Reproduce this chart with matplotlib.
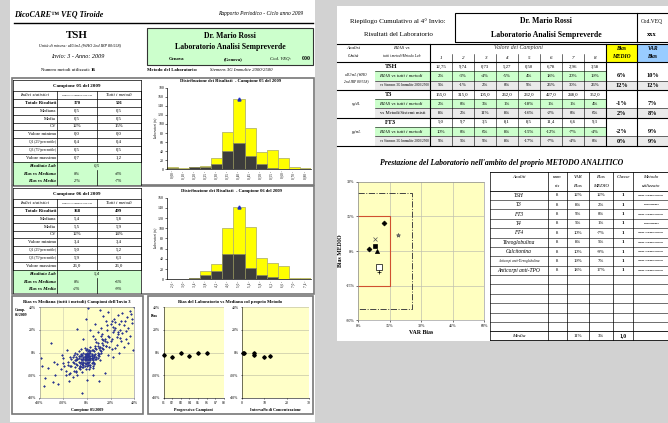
import matplotlib
matplotlib.use('Agg')
import matplotlib.pyplot as plt
from matplotlib.patches import Rectangle
from matplotlib.lines import Line2D

# ---------------- data ----------------
stat_labels = ['Totale Risultati', 'Mediana', 'Media', 'CV', 'Valore minimo',
               'Q1 (25°percentile)', 'Q3 (75°percentile)', 'Valore massimo']
c05_lab = ['170', '0,5', '0,5', '12%', '0,0', '0,4', '0,5', '0,7']
c05_all = ['501', '0,5', '0,5', '15%', '0,0', '0,4', '0,5', '1,2']
c05_res = '0,5'
c05_bias_med = ['0%', '-4%']
c05_bias_mean = ['2%', '-7%']
c06_lab = ['168', '5,4', '5,5', '12%', '3,4', '5,0', '5,9', '26,0']
c06_all = ['499', '5,8', '5,9', '14%', '3,4', '5,2', '6,3', '26,0']
c06_res = '5,4'
c06_bias_med = ['0%', '-6%']
c06_bias_mean = ['-2%', '-9%']

h05_bins = ['0,00', '0,10', '0,20', '0,25', '0,30', '0,35', '0,40', '0,45', '0,50', '0,55', '0,60', '0,70', '0,80']
h05_all = [4, 2, 5, 7, 26, 83, 156, 92, 39, 42, 26, 5, 3]
h05_met = [3, 1, 5, 4, 11, 41, 59, 29, 11, 2, 1, 0, 0]
h05_lab_bin = 6
h06_bins = ['2,6', '3,0', '3,4', '3,8', '4,2', '4,6', '5,0', '5,4', '5,8', '6,2', '6,6', '7,0', '7,4']
h06_all = [0, 0, 2, 17, 30, 100, 141, 103, 42, 31, 26, 3, 3]
h06_met = [0, 0, 2, 9, 16, 50, 50, 22, 8, 4, 0, 0, 0]
h06_lab_bin = 6

sc_x = [-2, 0, 3, -5, 1, 4, -3, 2, -7, 6, -1, 5, -4, 8, 0, -6, 3, -9, 7, 1,
        -2, 10, -8, 4, -3, 2, 6, -5, 9, -10, 0, -1, 5, -4, 11, -7, 2, -11, 8, 3,
        -6, 1, 12, -3, 7, -9, 4, -2, 6, -12, 13, 0, -5, 9, -8, 2, 10, -1, 5, -13,
        15, -4, 3, -10, 11, -6, 14, 1, -7, 8, -1, 2, -3, 4, -5, 6, -2, 0, 3, -4,
        1, 5, -6, 7, -8, 2, 9, -3, 0, 4,
        -1, 1, 2, -2, 3, -3, 4, -4, 0, 0, 1, -1, 2, -2, 5, -5, 6, -6, 7, -7,
        3, -3, 1, -1, 0, 2, -2, 4, -4, 8, -8, 9, -9, 10, 11, 12, 13, -10, -11, 14,
        6, 5, 4, 3, 2, 1, 0, -1, -2, -3,
        15, 18, 20, 22, 25, 17, 24, 28, 30, 27, 32, 35, 20, 23, 26, 30, 34, 38, 37, 40,
        39, 36, 33, 29, 19, 21, 25, 31, 18, 22, 27, 35, 16, 12, 9, 5, -8, 1, 11, 22,
        -3, 3, 7, 14, 18, -1, 13, 16, 24, 28, 16, 17, 19, 21, 23, 26, 12, 14, 9, 7,
        24, 29, 33, 36, 31, 26, 21, 17, 13, 38,
        -39, -38, -35, -29, -27, -30, -25, -22, -20, -18, -15, -24, -4, 15, 10, -17,
        -14, -21, -12, -16, -19, 5, 0, -8, -33, -28, -36, -11, -14, -9,
        -6, -13, -15, -16, -18, -20, -12, -14, -9, -7]
sc_y = [-3, -1, 0, -6, -4, -2, -8, 2, -5, 1, -10, -5, -2, 3, -6, -9, -7, -4, -1, 1,
        -12, 4, -11, -9, 0, -3, -4, -1, -2, -7, 3, -5, 2, -13, 5, -14, -8, -2, -6, 5,
        -3, -11, 1, -6, 6, -10, -1, 4, -9, -8, 8, 0, 3, 0, -1, -15, -3, 2, -12, -12,
        10, -17, -5, 0, -7, -15, 3, -2, 1, 9, -7, -6, -4, -5, -8, -2, -1, -9, -11, -10,
        -3, -7, -12, 4, -6, 0, 6, -13, -2, 2,
        -4, -2, -6, -7, -3, -9, -5, -10, -8, -2, -1, -3, -11, -4, -8, -3, -3, -12, -6, -8,
        1, -5, -7, -1, -4, 0, -6, -3, -7, -4, -6, -5, -7, -1, 2, 0, 4, -13, -9, 7,
        -10, -14, -6, -13, -5, -9, -12, -15, -9, -11,
        12, 15, 10, 18, 14, 20, 22, 20, 17, 25, 28, 22, 25, 30, 33, 35, 31, 26, 34, 40,
        2, 15, 12, 10, 5, 3, 7, 5, -2, -4, 0, 8, 28, 22, 18, 15, 21, 39, 38, 23,
        12, 20, 25, 32, 36, 30, 12, 6, 4, 13, 6, 9, 14, 12, 20, 18, 15, 11, 8, 12,
        27, 28, 19, 37, 24, 16, 28, 24, 16, 30,
        -5, -12, -23, -26, -20, 8, -10, -15, -5, -20, -25, -28, -36, -18, -25, 2,
        -18, -2, -22, -8, -12, -20, -24, -20, -14, -8, -30, -16, -4, -17,
        -13, -6, -19, -11, -16, -9, -4, -12, -16, -3]

prog_x = [1, 2, 3, 4, 5, 6]
prog_bias = [-2, -4, 0, -3, 0, 0]
conc_x = [5.3, 9.7, 0.7, 12.7, 0.5, 5.5]

samples = ['1', '2', '3', '4', '5', '6', '7', '8']
groups = ['TSH', 'T3', 'FT3']
units = [['uIU/mL (WHO', '2nd IRP 80/558)'], ['ng/dL'], ['pg/mL']]
vs_labels = ['vs Siemens 3G Immulite 2000/2500', 'vs Metodi/Sistemi misti', 'vs Siemens 3G Immulite 2000/2500']
grp_values = [['12,75', '9,74', '0,73', '5,27', '0,50', '6,78', '2,96', '3,58'],
              ['155,0', '315,0', '105,0', '262,0', '232,0', '427,0', '248,0', '352,0'],
              ['5,0', '9,7', '3,5', '8,1', '8,5', '11,4', '6,6', '9,3']]
grp_bias_all = [[2, -3, -4, -5, 4, 18, 20, 19], [2, 0, 3, 1, -18, 1, 1, 4], [10, 0, 6, 8, -15, -12, -7, -4]]
grp_bias_met = [[5, -1, 2, 0, 9, 26, 30, 26], [8, 2, 11, 8, -16, -2, 0, 6], [9, 5, 9, 8, -17, -7, -4, 0]]
grp_medio = [[6, 12], [-1, 2], [-2, 0]]
grp_var = [[10, 12], [7, 8], [9, 9]]

analiti = ['TSH', 'T3', 'FT3', 'T4', 'FT4', 'Tireoglobulina', 'Calcitonina',
           'Anticorpi anti-Tireoglobulina', 'Anticorpi anti-TPO']
num_ris = [8, 8, 8, 8, 8, 8, 8, 8, 8]
var_bias = [12, 8, 9, 5, 10, 8, 10, 19, 18]
bias_medio = [12, 2, 0, 1, -7, 5, -9, 7, 17]
classe = [1, 1, 1, 1, 1, 1, 1, 1, 1]
metodo = ['Siemens 3G Immulite 2000/2500', 'Metodi/Sistemi misti', 'Siemens 3G Immulite 2000/2500',
          'Metodi/Sistemi misti', 'Siemens 3G Immulite 2000/2500', 'Siemens 3G Immulite 2000/2500',
          'Siemens 3G Immulite 2000/2500', 'Siemens 3G Immulite 2000/2500', 'Siemens 3G Immulite 2000/2500']
plotted = [True, True, True, True, True, True, True, True, False]
markers = ['D', 's', '^', 'D', 's', 'x', '+', '*', 'o']
mfaces = ['black', 'black', 'black', 'black', 'white', 'gray', 'black', 'gray', 'black']
msizes = [2.5, 3, 3, 2.5, 4, 3, 3, 3, 3]

# ---------------- helpers ----------------
W, H = 668, 423
plt.rcParams['font.family'] = ['Liberation Serif', 'DejaVu Serif']
fig = plt.figure(figsize=(W / 100, H / 100), dpi=100)
fig.patch.set_facecolor('#d2d2d2')


def fx(x):
    return x / W


def fy(y):
    return 1 - y / H


def T(x, y, s, size=3.4, ha='center', va='center', weight='normal', style='normal', color='black', rot=0):
    fig.text(fx(x), fy(y), s, fontsize=size, ha=ha, va=va, fontweight=weight,
             fontstyle=style, color=color, rotation=rot, zorder=5)


def L(x0, y0, x1, y1, lw=0.5, color='black', ls='-'):
    fig.add_artist(Line2D([fx(x0), fx(x1)], [fy(y0), fy(y1)], lw=lw, color=color, ls=ls,
                          transform=fig.transFigure, zorder=4))


def R(x0, y0, x1, y1, fc='none', ec='none', lw=0.5, z=-1):
    fig.add_artist(Rectangle((fx(x0), fy(y1)), fx(x1) - fx(x0), fy(y0) - fy(y1),
                             transform=fig.transFigure, fc=fc, ec=ec, lw=lw, zorder=z))


def AX(x0, y0, x1, y1):
    return fig.add_axes([fx(x0), fy(y1), fx(x1) - fx(x0), fy(y0) - fy(y1)])


# ================= LEFT PAGE =================
R(10, 0, 315, 422, fc='white')
T(14, 14, 'DicoCARE™ VEQ Tiroide', size=5.8, ha='left', weight='bold', style='italic')
T(303, 14, 'Rapporto Periodico - Ciclo anno 2009', size=4.0, ha='right', style='italic')
L(14, 23, 313, 23, lw=1.0)
T(77, 35, 'TSH', size=7.8, weight='bold')
T(80, 45, 'Unità di misura: uIU/mL (WHO 2nd IRP 80/558)', size=3.0, style='italic')
T(78, 57, 'Invio: 3 - Anno: 2009', size=4.4, style='italic')
T(66, 70, 'Numero metodi utilizzati:', size=3.4, ha='center')
T(93, 70, '16', size=3.6, weight='bold')

R(147, 28, 313, 65, fc='#ccffcc', ec='#333333', lw=0.8)
T(230, 36, 'Dr. Mario Rossi', size=5.6, weight='bold')
T(230, 47, 'Laboratorio Analisi Sempreverde', size=5.6, weight='bold')
T(176, 59, 'Genova', size=3.4, weight='bold')
T(233, 59, '(Genova)', size=3.4, weight='bold')
T(281, 59, 'Cod. VEQ:', size=3.4, style='italic')
T(306, 59, '000', size=4.2, weight='bold')
T(147, 70, 'Metodo del Laboratorio:', size=3.4, ha='left', weight='bold')
T(210, 70, 'Siemens 3G Immulite 2000/2500', size=3.4, ha='left', style='italic')

cx = [13, 57, 97, 141]


def stat_table(top, title, lab, allv, res, bmed, bmean):
    R(12, top - 2, 314, top + 105.5, ec='#777777', lw=1.2, z=0)
    L(13, top, 141, top, lw=0.5)
    T(77, top + 6, title, size=3.6, weight='bold')
    hdr_top = top + 11
    row_h = 7.85
    rows_top = hdr_top + 8
    L(13, hdr_top, 141, hdr_top)
    T(35, hdr_top + 4, 'Indici statistici', size=3.4, style='italic')
    T(77, hdr_top + 4, 'Siemens 3G Immulite 2000/2500', size=1.6)
    T(119, hdr_top + 4, 'Tutti i metodi', size=3.4, style='italic')
    green_top = rows_top + 8 * row_h
    bottom = rows_top + 11 * row_h
    R(13, green_top, 141, bottom, fc='#ccffcc', z=0)
    for i in range(9):
        L(13, rows_top + i * row_h, 141, rows_top + i * row_h)
    for x in cx:
        L(x, hdr_top, x, green_top)
    L(13, top, 13, bottom)
    L(141, top, 141, bottom)
    L(57, green_top, 57, bottom)
    L(97, green_top + row_h, 97, bottom)
    for i, lbl in enumerate(stat_labels):
        yc = rows_top + (i + 0.5) * row_h
        small = lbl.startswith('Q')
        T(56, yc, lbl, size=2.6 if small else 3.4, ha='right',
          weight='bold' if i == 0 else 'normal')
        T(77, yc, lab[i], size=3.4, weight='bold' if i == 0 else 'normal')
        T(119, yc, allv[i], size=3.4, weight='bold' if i == 0 else 'normal')
    y1 = green_top + 0.5 * row_h
    T(56, y1, 'Risultato Lab', size=3.4, ha='right', weight='bold', style='italic')
    T(97, y1, res, size=3.4, style='italic')
    T(56, y1 + row_h, 'Bias vs Mediana', size=3.4, ha='right', weight='bold', style='italic')
    T(77, y1 + row_h, bmed[0], size=3.2, style='italic')
    T(119, y1 + row_h, bmed[1], size=3.2, style='italic')
    T(56, y1 + 2 * row_h, 'Bias vs Media', size=3.4, ha='right', weight='bold', style='italic')
    T(77, y1 + 2 * row_h, bmean[0], size=3.2, style='italic')
    T(119, y1 + 2 * row_h, bmean[1], size=3.2, style='italic')


stat_table(80, 'Campione 05 del 2009', c05_lab, c05_all, c05_res, c05_bias_med, c05_bias_mean)
stat_table(188, 'Campione 06 del 2009', c06_lab, c06_all, c06_res, c06_bias_med, c06_bias_mean)


def histogram(y_top, y_bot, ymax, bins, allv, met, labbin, title, title_y):
    ax = AX(167, y_top, 311, y_bot)
    xs = list(range(len(allv)))
    ax.bar(xs, allv, width=1.0, align='edge', color='#ffff00', edgecolor='#b5b56a', lw=0.6)
    ax.bar(xs, met, width=1.0, align='edge', color='#3c3c3c', edgecolor='#8a8a5a', lw=0.6)
    ax.plot([labbin + 0.5], [allv[labbin]], marker='^', color='#2030c0', ms=2.2, ls='none', clip_on=False)
    ax.set_xlim(0, len(allv))
    ax.set_ylim(0, ymax)
    ax.set_yticks(range(0, ymax + 1, 20))
    ax.set_xticks([i + 0.5 for i in xs])
    ax.set_xticklabels([b + ' -' for b in bins], rotation=90, fontsize=2.4)
    ax.tick_params(axis='y', labelsize=2.8, length=1.2, width=0.4, pad=1)
    ax.tick_params(axis='x', length=0, pad=1)
    for s in ['top', 'right']:
        ax.spines[s].set_visible(False)
    ax.spines['left'].set_linewidth(0.5)
    ax.spines['bottom'].set_linewidth(0.5)
    ax.set_ylabel('Laboratori (n)', fontsize=2.6, style='italic', labelpad=1)
    T(231, title_y, title, size=3.3, weight='bold')


histogram(87.7, 169.3, 180, h05_bins, h05_all, h05_met, h05_lab_bin,
          'Distribuzione dei Risultati  - Campione 05 del 2009', 81)
histogram(197.7, 279.3, 160, h06_bins, h06_all, h06_met, h06_lab_bin,
          'Distribuzione dei Risultati  - Campione 06 del 2009', 191)

# bottom-left box: scatter
R(12, 296, 143, 414, ec='#777777', lw=1.2, z=0)
R(148, 296, 313, 414, ec='#777777', lw=1.2, z=0)
T(77, 302, "Bias vs Mediana (tutti i metodi) Campioni dell'Invio 3", size=3.3, weight='bold')
ax = AX(39.5, 307.3, 134.3, 397.7)
ax.set_facecolor('#ffffc8')
ax.scatter(sc_x, sc_y, s=2.0, marker='D', color='#2a3590', linewidths=0)
ax.set_xlim(-40, 40)
ax.set_ylim(-40, 40)
ax.set_xticks([-40, -20, 0, 20, 40])
ax.set_yticks([-40, -20, 0, 20, 40])
ax.set_xticklabels(['-40%', '-20%', '0%', '20%', '40%'])
ax.set_yticklabels(['-40%', '-20%', '0%', '20%', '40%'])
ax.grid(True, color='#c8c8b0', lw=0.4)
ax.set_axisbelow(True)
ax.tick_params(labelsize=2.8, length=1, width=0.4, pad=1.5)
for s in ax.spines.values():
    s.set_linewidth(0.4)
    s.set_color('#888888')
T(15, 310, 'Comp.', size=2.8, ha='left', weight='bold')
T(15, 315, '06/2009', size=2.8, ha='left', weight='bold')
T(87, 410, 'Campione 05/2009', size=3.0, weight='bold')

# bottom-right box: lab bias
T(230, 302, 'Bias del Laboratorio vs Mediana col proprio Metodo', size=3.3, weight='bold')
for (x0, x1, xv, xlim, xt, xtl, xlabel) in [
        (163.5, 224, prog_x, (1, 8), list(range(1, 9)), ['01', '02', '03', '04', '05', '06', '07', '08'],
         'Progressivo Campioni'),
        (242, 309, conc_x, (0, 30), [0, 10, 20, 30], ['0', '10', '20', '30'],
         'Intervallo di Concentrazione')]:
    a = AX(x0, 307.3, x1, 397.7)
    a.set_facecolor('#ffffc8')
    a.plot(xv, prog_bias, ls='none', marker='D', ms=1.8, color='black', clip_on=False)
    a.set_xlim(*xlim)
    a.set_ylim(-40, 40)
    a.set_xticks(xt)
    a.set_xticklabels(xtl)
    a.set_yticks([-40, -20, 0, 20, 40])
    a.set_yticklabels(['-40%', '-20%', '0%', '20%', '40%'])
    a.grid(True, axis='y', color='#b8b8a0', lw=0.4)
    a.set_axisbelow(True)
    a.tick_params(labelsize=2.8, length=1, width=0.4, pad=1.5)
    for s in ['top', 'right']:
        a.spines[s].set_visible(False)
    a.spines['left'].set_linewidth(0.4)
    a.spines['bottom'].set_linewidth(0.4)
    T((x0 + x1) / 2, 410, xlabel, size=3.0, weight='bold')
T(151, 316, 'Bias', size=2.8, ha='left', weight='bold')

# ================= RIGHT PAGE =================
R(337, 6, 668, 341, fc='white')
T(398, 21, 'Riepilogo Cumulativo al 4° Invio:', size=5.0)
T(398, 35, 'Risultati del Laboratorio', size=5.0)
R(455, 13, 680, 42, ec='black', lw=0.8, z=0)
L(637, 13, 637, 42, lw=0.8)
T(546, 21, 'Dr. Mario Rossi', size=5.6, weight='bold')
T(546, 35, 'Laboratorio Analisi Sempreverde', size=5.6, weight='bold')
T(652, 21, 'Cod.VEQ', size=4.0)
T(652, 35, 'xxx', size=4.6, weight='bold')

vx0, vx1 = 430, 606
cw = (vx1 - vx0) / 8
hdr0, hdr1 = 44, 62
rh = 9.3
R(606, hdr0, 637, hdr1, fc='#ffff00', z=0)
R(637, hdr0, 668, hdr1, fc='#99ccff', z=0)
T(353, 48, 'Analisi', size=3.6, style='italic')
T(353, 56, 'Unità', size=3.6, style='italic')
T(402, 48, 'BIAS vs', size=3.6, style='italic')
T(402, 56, 'tutti i metodi/Metodo Lab', size=2.6, style='italic')
T((vx0 + vx1) / 2, 48, 'Valore dei Campioni', size=4.2, style='italic', color='#333333')
for i, s in enumerate(samples):
    T(vx0 + (i + 0.5) * cw, 58, s, size=3.6, style='italic')
    L(vx0 + i * cw, 54, vx0 + i * cw, hdr1, lw=0.4)
T(621.5, 48.5, 'Bias', size=4.0, weight='bold', style='italic')
T(621.5, 56.5, 'MEDIO', size=4.0, weight='bold', style='italic')
T(652.5, 48.5, 'VAR', size=4.0, weight='bold', style='italic')
T(652.5, 56.5, 'Bias', size=4.0, weight='bold', style='italic')
L(337, hdr0, 668, hdr0, lw=0.8)
L(337, hdr1, 668, hdr1, lw=0.8)
for x in [vx0, 606, 637]:
    L(x, hdr0, x, hdr1 + 9 * rh, lw=0.8)


def pct(v):
    return '%d%%' % v


for g in range(3):
    base = hdr1 + g * 3 * rh
    R(375, base + rh, vx1, base + 2 * rh, fc='#ccffcc', z=0)
    R(375, base + 2 * rh, vx1, base + 3 * rh, fc='#eaeaea', z=0)
    R(606, base + 2 * rh, 668, base + 3 * rh, fc='#eaeaea', z=0)
    T(385, base + 0.5 * rh, groups[g], size=4.6, ha='left', weight='bold')
    T(380, base + 1.5 * rh, 'BIAS vs tutti i metodi', size=3.6, ha='left', style='italic')
    T(380, base + 2.5 * rh, vs_labels[g], size=2.4 if 'Siemens' in vs_labels[g] else 3.4, ha='left')
    ul = units[g]
    if len(ul) == 2:
        T(356, base + 1.3 * rh, ul[0], size=2.6, style='italic')
        T(356, base + 2.0 * rh, ul[1], size=2.6, style='italic')
    else:
        T(356, base + 1.5 * rh, ul[0], size=2.6, style='italic')
    for i in range(8):
        xc = vx0 + (i + 0.5) * cw
        T(xc, base + 0.5 * rh, grp_values[g][i], size=3.4)
        T(xc, base + 1.5 * rh, pct(grp_bias_all[g][i]), size=3.4)
        T(xc, base + 2.5 * rh, pct(grp_bias_met[g][i]), size=3.4)
        L(vx0 + i * cw, base, vx0 + i * cw, base + 3 * rh, lw=0.4)
    for k in range(2):
        T(621.5, base + (1.5 + k) * rh, pct(grp_medio[g][k]), size=4.6, weight='bold')
        T(652.5, base + (1.5 + k) * rh, pct(grp_var[g][k]), size=4.6, weight='bold')
    for k in range(1, 3):
        L(375, base + k * rh, vx1, base + k * rh, lw=0.4)
    L(606, base + 2 * rh, 668, base + 2 * rh, lw=0.4)
    L(337, base + 3 * rh, 668, base + 3 * rh, lw=0.8)

T(502, 163, "Prestazione del Laboratorio nell'ambito del proprio METODO ANALITICO",
  size=5.6, weight='bold', style='italic')

# performance scatter
ax = AX(358.3, 181.7, 484.3, 320.3)
ax.set_facecolor('#ffffc0')
ax.set_xlim(0, 60)
ax.set_ylim(-30, 30)
ax.set_xticks([0, 15, 30, 45, 60])
ax.set_xticklabels(['0%', '15%', '30%', '45%', '60%'])
ax.set_yticks([-30, -15, 0, 15, 30])
ax.set_yticklabels(['-30%', '-15%', '0%', '15%', '30%'])
ax.grid(True, color='#c0c0b0', lw=0.5)
ax.set_axisbelow(True)
ax.tick_params(labelsize=3.0, length=1.2, width=0.4, pad=1.5)
for s in ax.spines.values():
    s.set_linewidth(0.4)
    s.set_color('#888888')
ax.plot([0, 15, 15, 0], [15, 15, -15, -15], color='#d05030', lw=0.8)
ax.plot([0, 25.5, 25.5, 0], [25, 25, -25, -25], color='#444444', lw=0.7, ls='-.')
for i in range(len(analiti)):
    if plotted[i]:
        ax.plot(var_bias[i], bias_medio[i], marker=markers[i], ms=msizes[i], ls='none',
                mfc=mfaces[i], mec='black' if mfaces[i] != 'gray' else '#555555', mew=0.5)
ax.set_xlabel('VAR Bias', fontsize=4.2, fontweight='bold', labelpad=1.5)
ax.set_ylabel('Bias MEDIO', fontsize=4.2, fontweight='bold', labelpad=2)

# performance table
cols = [490, 548, 567, 589, 613, 633, 668]
t0, th1 = 172, 190.7
trh = 9.37
nrows = 15
tbot = th1 + nrows * trh
mbot = tbot + 8.8
for x in cols[:-1]:
    L(x, t0, x, mbot, lw=0.5)
L(490, t0, 668, t0, lw=0.6)
L(490, th1, 668, th1, lw=0.6)
L(490, tbot, 668, tbot, lw=0.6)
L(490, mbot, 668, mbot, lw=0.6)
for k in range(1, nrows):
    L(490, th1 + k * trh, 668, th1 + k * trh, lw=0.4)
hdrs = [['Analiti', ''], ['num', 'ris'], ['VAR', 'Bias'], ['Bias', 'MEDIO'], ['Classe', ''], ['Metodo', 'utilizzato']]
for j, (a, b) in enumerate(hdrs):
    xc = (cols[j] + cols[j + 1]) / 2
    T(xc, 177, a, size=3.6, style='italic')
    if b:
        T(xc, 186, b, size=3.6, style='italic')
for i, name in enumerate(analiti):
    yc = th1 + (i + 0.5) * trh
    T(519, yc, name, size=2.4 if len(name) > 20 else 4.0, style='italic')
    T(557.5, yc, str(num_ris[i]), size=3.4)
    T(578, yc, pct(var_bias[i]), size=3.4)
    T(601, yc, pct(bias_medio[i]), size=3.4)
    T(623, yc, str(classe[i]), size=3.6, weight='bold')
    T(650.5, yc, metodo[i], size=1.3, weight='bold')
ym = tbot + 4.4
T(519, ym, 'Media', size=3.8, style='italic')
T(578, ym, '%d%%' % round(sum(var_bias) / len(var_bias)), size=3.4)
T(601, ym, '%d%%' % round(sum(bias_medio) / len(bias_medio)), size=3.4)
T(623, ym, ('%.1f' % (sum(classe) / len(classe))).replace('.', ','), size=4.0, weight='bold')

fig.savefig('out.png', dpi=100, facecolor=fig.get_facecolor())
